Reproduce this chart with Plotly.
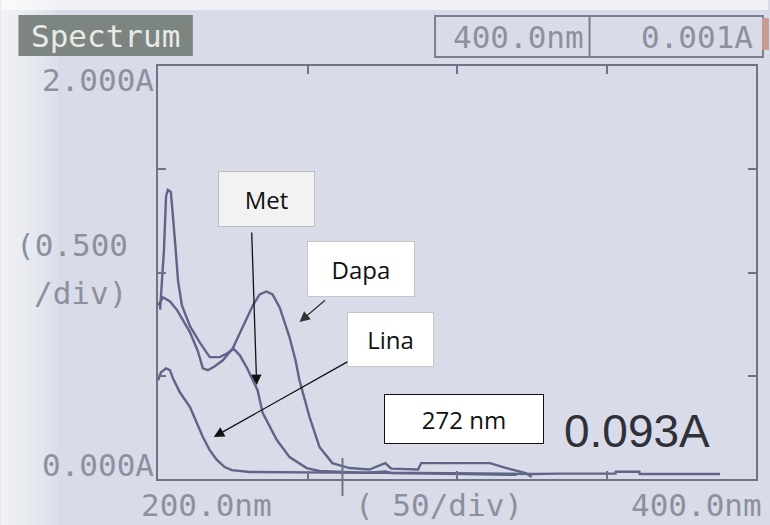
import plotly.graph_objects as go

# ---- data ----
met_nm = [200.7, 202.0, 202.7, 203.3, 204.3, 205.0, 205.7, 206.7, 208.0, 210.7, 214.0, 217.3, 220.7,
          223.3, 225.3, 227.3, 229.7, 233.3, 235.0, 239.7, 244.0, 249.7, 254.0, 262.0, 270.0, 276.0,
          278.0, 287.0, 300.0, 310.0, 320.0]
met_abs = [0.82, 1.11, 1.37, 1.40, 1.39, 1.28, 1.15, 0.96, 0.84, 0.74, 0.66, 0.59, 0.59,
           0.61, 0.63, 0.60, 0.54, 0.43, 0.32, 0.19, 0.106, 0.053, 0.039, 0.034, 0.031, 0.036,
           0.029, 0.028, 0.024, 0.022, 0.020]

dapa_nm = [200.0, 201.7, 204.0, 206.3, 210.7, 213.3, 215.0, 216.7, 219.0, 221.7, 225.0, 227.3, 229.7,
           231.7, 234.0, 236.3, 238.3, 240.7, 244.0, 246.0, 247.3, 250.7, 254.0, 258.3, 264.0, 270.7,
           276.0, 278.0, 287.0, 288.0, 298.0, 311.0, 316.0, 323.0, 325.0]
dapa_abs = [0.84, 0.88, 0.86, 0.82, 0.71, 0.62, 0.536, 0.527, 0.546, 0.575, 0.633, 0.705, 0.778,
            0.84, 0.894, 0.908, 0.894, 0.831, 0.686, 0.575, 0.478, 0.30, 0.155, 0.077, 0.053, 0.046,
            0.077, 0.050, 0.046, 0.077, 0.077, 0.077, 0.055, 0.029, 0.010]

lina_nm = [200.0, 201.0, 202.7, 204.0, 205.0, 207.3, 210.7, 213.0, 215.0, 217.3, 219.7, 222.3, 224.7,
           230.7, 247.3, 260.0, 287.0, 300.0, 326.0, 334.0, 346.0, 353.0, 353.1, 361.0, 361.1, 388.0]
lina_abs = [0.478, 0.517, 0.536, 0.527, 0.488, 0.42, 0.348, 0.27, 0.203, 0.14, 0.092, 0.058, 0.043,
            0.034, 0.034, 0.031, 0.029, 0.027, 0.024, 0.026, 0.026, 0.026, 0.035, 0.035, 0.024, 0.024]

x_ticks = [250, 300, 350]
y_ticks = [0.5, 1.0, 1.5]
cursor_nm = 261.7

# ---- layout geometry ----
W, H = 770, 525
L, R, T, B = 158, 758, 66, 479


def px(xp):
    return (xp - L) / (R - L)


def py(yp):
    return (B - yp) / (B - T)


LINE = "#5f6589"
LCD = "#8d909f"
BG = "#d9dce8"

fig = go.Figure()
for xs, ys in [(lina_nm, lina_abs), (met_nm, met_abs), (dapa_nm, dapa_abs)]:
    fig.add_trace(go.Scatter(x=xs, y=ys, mode="lines",
                             line=dict(color=LINE, width=2.4), showlegend=False,
                             hoverinfo="skip"))

shapes = []
# light vignette on the left / top of the photographed screen
steps = 8
for i in range(steps):
    shapes.append(dict(type="rect", xref="paper", yref="paper", layer="below",
                       x0=px(0), x1=px(8 + i * 7), y0=py(H), y1=py(0),
                       fillcolor="white", opacity=0.12, line=dict(width=0)))
shapes.append(dict(type="rect", xref="paper", yref="paper", layer="below",
                   x0=px(0), x1=px(W), y0=py(10), y1=py(0),
                   fillcolor="white", opacity=0.6, line=dict(width=0)))
# Spectrum title box
shapes.append(dict(type="rect", xref="paper", yref="paper",
                   x0=px(18), x1=px(193), y0=py(56), y1=py(15),
                   fillcolor="#7d8580", line=dict(width=0)))
# top-right readout box
shapes.append(dict(type="rect", xref="paper", yref="paper",
                   x0=px(436), x1=px(765), y0=py(57), y1=py(16),
                   fillcolor="rgba(0,0,0,0)", line=dict(color="#7b7e8e", width=2)))
shapes.append(dict(type="line", xref="paper", yref="paper",
                   x0=px(591), x1=px(591), y0=py(57), y1=py(16),
                   line=dict(color="#7b7e8e", width=2)))
shapes.append(dict(type="rect", xref="paper", yref="paper",
                   x0=px(764), x1=px(771), y0=py(50), y1=py(18),
                   fillcolor="#c99a92", line=dict(width=0)))
# cursor marker
shapes.append(dict(type="line", xref="x", yref="paper",
                   x0=cursor_nm, x1=cursor_nm, y0=py(496), y1=py(458),
                   line=dict(color="#6f7385", width=2)))

ann = []


def lcd(text, x, y, xanchor, size=31, color=LCD):
    ann.append(dict(text=text, xref="paper", yref="paper", x=px(x), y=py(y),
                    xanchor=xanchor, yanchor="middle", showarrow=False,
                    font=dict(family="DejaVu Sans Mono", size=size, color=color)))


lcd("Spectrum", 105, 36, "center", size=31, color="#e6ebe6")
lcd("400.0nm", 587, 37, "right")
lcd("0.001A", 757, 37, "right")
lcd("2.000A", 156, 80, "right")
lcd("(0.500", 14, 245, "left")
lcd("/div)", 32, 293, "left")
lcd("0.000A", 156, 465, "right")
lcd("200.0nm", 207, 505, "center")
lcd("( 50/div)", 440, 505, "center")
lcd("400.0nm", 766, 505, "right")

# large cursor readout
ann.append(dict(text="0.093A", xref="paper", yref="paper", x=px(563), y=py(431),
                xanchor="left", yanchor="middle", showarrow=False,
                font=dict(family="Liberation Sans", size=46, color="#2f313a")))


def box(text, x0, x1, y0, y1, bg, border):
    ann.append(dict(text=text, xref="paper", yref="paper",
                    x=px((x0 + x1) / 2), y=py((y0 + y1) / 2),
                    xanchor="center", yanchor="middle", showarrow=False,
                    width=x1 - x0 - 2, height=y1 - y0 - 2, borderpad=0,
                    bgcolor=bg, bordercolor=border, borderwidth=1,
                    font=dict(family="Open Sans", size=24, color="#111111")))


box("Met", 218, 315, 171, 227, "#f2f2f2", "#bdbdbd")
box("Dapa", 308, 416, 241, 297, "#ffffff", "#c6c6c6")
box("Lina", 348, 435, 312, 367, "#ffffff", "#c6c6c6")
box("272 nm", 385, 545, 394, 444, "#ffffff", "#111111")


def arrow(tx, ty, hx, hy, color="#111111"):
    ann.append(dict(text="", xref="paper", yref="paper", x=px(hx), y=py(hy),
                    ax=tx - hx, ay=ty - hy, axref="pixel", ayref="pixel",
                    showarrow=True, arrowhead=2, arrowsize=1.6, arrowwidth=1.3,
                    arrowcolor=color))


arrow(252, 231, 257, 385)
arrow(327, 299, 300, 322, "#333333")
arrow(349, 361, 214, 437)

axis_common = dict(showline=True, linecolor="#6f7385", linewidth=2, mirror="ticks",
                   ticks="inside", ticklen=8, tickwidth=2, tickcolor="#6f7385",
                   showgrid=False, zeroline=False, showticklabels=False)

fig.update_layout(
    width=W, height=H,
    margin=dict(l=L, r=W - R, t=T, b=H - B, pad=0),
    paper_bgcolor=BG, plot_bgcolor=BG,
    xaxis=dict(range=[200, 400], tickvals=x_ticks, **axis_common),
    yaxis=dict(range=[0, 2], tickvals=y_ticks, **axis_common),
    shapes=shapes, annotations=ann, showlegend=False,
)

fig.write_html("out.html")
